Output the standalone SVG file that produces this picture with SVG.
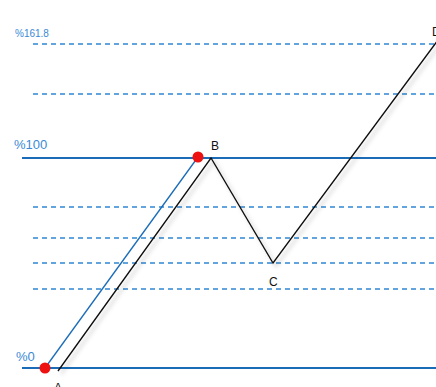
<svg xmlns="http://www.w3.org/2000/svg" width="436" height="387" viewBox="0 0 436 387">
<defs>
<style>
.dash{stroke:#2f86d4;stroke-width:1.3;stroke-dasharray:5 4;fill:none}
.solid{stroke:#1a6cb8;stroke-width:2;fill:none}
.lbl{font-family:"Liberation Sans",Arial,sans-serif;fill:#3a8ad6}
.pt{font-family:"Liberation Sans",Arial,sans-serif;font-size:12px;fill:#111}
.dot{fill:#ee1111}
</style>
<filter id="sh" x="-20%" y="-20%" width="140%" height="140%">
<feDropShadow dx="3" dy="3" stdDeviation="2" flood-color="#000" flood-opacity="0.25"/>
</filter>
</defs>
<rect width="436" height="387" fill="#fff"/>
<g id="levels">
<line class="dash" x1="33" y1="44" x2="436" y2="44"/>
<line class="dash" x1="33" y1="94" x2="436" y2="94"/>
<line class="dash" x1="33" y1="207" x2="436" y2="207"/>
<line class="dash" x1="33" y1="238" x2="436" y2="238"/>
<line class="dash" x1="33" y1="263" x2="436" y2="263"/>
<line class="dash" x1="33" y1="289" x2="436" y2="289"/>
<line class="solid" x1="22" y1="158" x2="436" y2="158"/>
<line class="solid" x1="22" y1="368" x2="436" y2="368"/>
</g>
<g id="labels">
<text class="lbl" x="15" y="37" font-size="10">%161.8</text>
<text class="lbl" x="14" y="149" font-size="13">%100</text>
<text class="lbl" x="16" y="361" font-size="13">%0</text>
</g>
<g id="connectors">
<line x1="45" y1="368" x2="198" y2="157" stroke="#1a6cb8" stroke-width="1.3"/>
<polyline points="58,371 211,158 273,263 438,40" fill="none" stroke="#111" stroke-width="1.3" filter="url(#sh)"/>
</g>
<g id="pointA">
<circle class="dot" cx="45" cy="368" r="5.5"/>
<text class="pt" x="54" y="392">A</text>
</g>
<g id="pointB">
<circle class="dot" cx="198" cy="157" r="5.5"/>
<text class="pt" x="211" y="150">B</text>
</g>
<g id="pointC">
<text class="pt" x="269" y="286">C</text>
</g>
<g id="pointD">
<text class="pt" x="432" y="36">D</text>
</g>
</svg>
